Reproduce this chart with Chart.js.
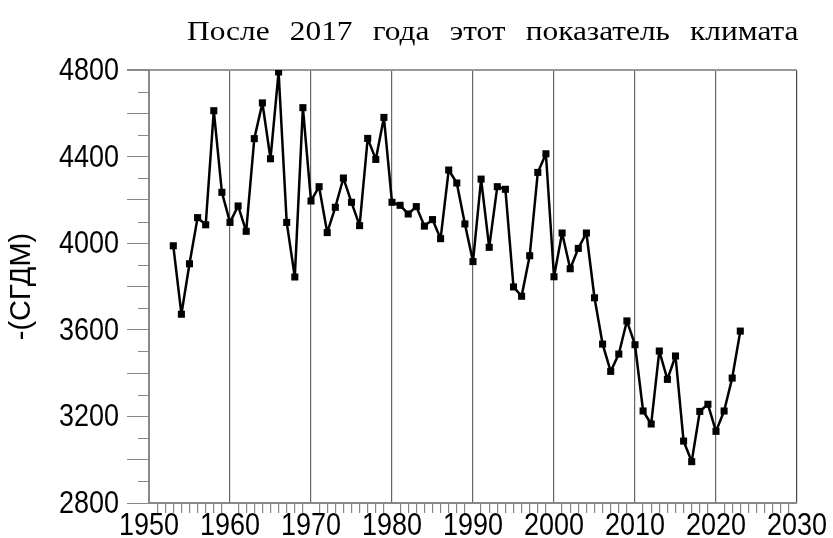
<!DOCTYPE html>
<html>
<head>
<meta charset="utf-8">
<script src="https://cdn.jsdelivr.net/npm/chart.js@4"></script>
<style>
  body { margin: 0; background: #fff; }
  #wrap { position: relative; width: 833px; height: 538px; }
  #caption {
    position: absolute; top: 17px; left: 187px; width: 546px;
    font: 28px 'Liberation Serif', serif; line-height: 28px; color: #000;
    text-align: justify; text-align-last: justify;
    transform: scaleX(1.12); transform-origin: 0 0;
  }
</style>
</head>
<body>
<div id="wrap">
  <canvas id="chart" width="833" height="538"></canvas>
  <div id="caption">После 2017 года этот показатель климата</div>
</div>
<script>
const years = [
  1953, 1954, 1955, 1956, 1957, 1958, 1959,
  1960, 1961, 1962, 1963, 1964, 1965, 1966, 1967, 1968, 1969,
  1970, 1971, 1972, 1973, 1974, 1975, 1976, 1977, 1978, 1979,
  1980, 1981, 1982, 1983, 1984, 1985, 1986, 1987, 1988, 1989,
  1990, 1991, 1992, 1993, 1994, 1995, 1996, 1997, 1998, 1999,
  2000, 2001, 2002, 2003, 2004, 2005, 2006, 2007, 2008, 2009,
  2010, 2011, 2012, 2013, 2014, 2015, 2016, 2017, 2018, 2019,
  2020, 2021, 2022, 2023
];
const values = [
  3988, 3672, 3905, 4118, 4085, 4612, 4235,
  4096, 4172, 4055, 4483, 4648, 4390, 4791, 4096, 3844, 4626,
  4195, 4261, 4049, 4166, 4301, 4189, 4081, 4484, 4387, 4581,
  4189, 4175, 4135, 4169, 4079, 4109, 4021, 4338, 4278, 4089,
  3915, 4296, 3981, 4261, 4249, 3798, 3755, 3942, 4327, 4413,
  3845, 4047, 3882, 3976, 4047, 3748, 3534, 3408, 3488, 3641,
  3531, 3225, 3165, 3502, 3371, 3479, 3086, 2991, 3223, 3256,
  3131, 3225, 3377, 3594
];
const yLabels = [2800, 3200, 3600, 4000, 4400, 4800];
const xLabels = [1950, 1960, 1970, 1980, 1990, 2000, 2010, 2020, 2030];
const gridYears = [1960, 1970, 1980, 1990, 2000, 2010, 2020];
const yMinorTicks = [2900, 3100, 3300, 3500, 3700, 3900, 4100, 4300, 4500, 4700];

// the tick numbers in the source are tall and narrow: draw them stretched
const STRETCH = 1.15;
const labelFont = "27px 'Liberation Sans', Arial";

const axisExtras = {
  id: 'axisExtras',
  afterDraw(chart) {
    const { ctx, scales: { x, y } } = chart;
    ctx.save();
    // short ticks between the long ones on the y axis
    ctx.strokeStyle = '#888';
    ctx.lineWidth = 1;
    yMinorTicks.forEach(v => {
      const py = Math.round(y.getPixelForValue(v)) + 0.5;
      ctx.beginPath();
      ctx.moveTo(x.left - 11, py);
      ctx.lineTo(x.left, py);
      ctx.stroke();
    });
    // tick labels
    ctx.fillStyle = '#000';
    ctx.font = labelFont;
    ctx.textBaseline = 'alphabetic';
    ctx.scale(1, STRETCH);
    ctx.textAlign = 'right';
    yLabels.forEach(v => {
      const py = y.getPixelForValue(v) + 10;
      ctx.fillText(String(v), x.left - 30, py / STRETCH);
    });
    ctx.textAlign = 'center';
    xLabels.forEach(v => {
      ctx.fillText(String(v), x.getPixelForValue(v), (y.bottom + 32) / STRETCH);
    });
    ctx.restore();
  }
};

new Chart(document.getElementById('chart').getContext('2d'), {
  type: 'line',
  data: {
    datasets: [{
      data: years.map((yr, i) => ({ x: yr, y: values[i] })),
      borderColor: '#000',
      backgroundColor: '#000',
      borderWidth: 2.5,
      borderJoinStyle: 'round',
      tension: 0,
      pointStyle: 'rect',
      pointRadius: 5,
      pointBorderWidth: 0,
      fill: false
    }]
  },
  options: {
    responsive: false,
    animation: false,
    layout: { padding: { top: 70, right: 36, left: 0, bottom: 0 } },
    plugins: { legend: { display: false }, tooltip: { enabled: false } },
    scales: {
      x: {
        type: 'linear',
        min: 1950,
        max: 2030,
        afterFit: s => { s.height = 35; },
        ticks: {
          stepSize: 1,
          autoSkip: false,
          maxRotation: 0,
          callback: () => ''
        },
        grid: {
          drawOnChartArea: true,
          tickLength: 10,
          color: c => gridYears.includes(c.tick && c.tick.value) ? '#666' : (c.tick && c.tick.value === 2030 ? '#444' : 'rgba(0,0,0,0)'),
          tickColor: c => (c.tick && c.tick.value % 10 === 0) ? 'rgba(0,0,0,0)' : '#888',
          lineWidth: 1.2
        },
        border: { display: true, color: '#888', width: 2 }
      },
      y: {
        min: 2800,
        max: 4800,
        afterFit: s => { s.width = 149; },
        title: {
          display: true,
          text: '-(СГДМ)',
          color: '#000',
          font: { family: "'Liberation Sans', Arial", size: 29 },
          padding: { top: 5, bottom: 0 }
        },
        ticks: {
          stepSize: 200,
          callback: () => ''
        },
        grid: {
          drawOnChartArea: true,
          tickLength: 22,
          color: c => (c.tick && c.tick.value === 4800) ? '#999' : 'rgba(0,0,0,0)',
          tickColor: '#888',
          lineWidth: c => (c.tick && c.tick.value === 4800) ? 2 : 1
        },
        border: { display: true, color: '#888', width: 2 }
      }
    }
  },
  plugins: [axisExtras]
});
</script>
</body>
</html>
